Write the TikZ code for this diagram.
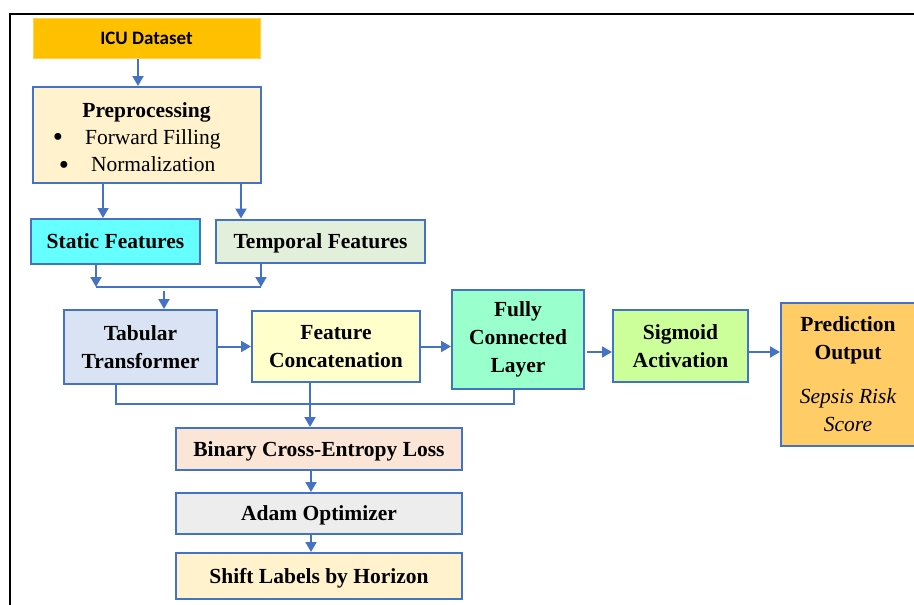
\documentclass[tikz,border=0pt]{standalone}
\usepackage{fontspec}
\setmainfont{Liberation Serif}
\newfontfamily\calibrifont{Carlito}
\usetikzlibrary{arrows.meta}
\definecolor{edgeblue}{HTML}{4472C4}
\definecolor{icufill}{HTML}{FFC000}
\definecolor{icuedge}{HTML}{FFD44D}
\definecolor{prefill}{HTML}{FFF2CC}
\definecolor{staticfill}{HTML}{66FFFF}
\definecolor{tempfill}{HTML}{E2EFDA}
\definecolor{tabfill}{HTML}{DAE3F3}
\definecolor{featfill}{HTML}{FFFFCC}
\definecolor{fcfill}{HTML}{99FFCC}
\definecolor{sigfill}{HTML}{CCFF99}
\definecolor{predfill}{HTML}{FFCC66}
\definecolor{bcefill}{HTML}{FBE5D6}
\definecolor{adamfill}{HTML}{EDEDED}
\newcommand{\bigbullet}{\raisebox{-2.5pt}{\fontsize{29}{28}\selectfont\textbullet}}
\begin{document}
\begin{tikzpicture}[x=1pt,y=-1pt,
  box/.style={draw=edgeblue, line width=2pt, inner sep=0pt, align=center,
    font=\fontsize{21.5}{28}\selectfont\bfseries, text=black},
  oneline/.style={text height=14.5pt, text depth=0pt},
  txt/.style={inner sep=0pt, font=\fontsize{21.5}{28}\selectfont, text=black},
  arr/.style={draw=edgeblue, line width=2pt, -{Triangle[length=10pt,width=11pt]}},
  link/.style={draw=edgeblue, line width=2pt}]
\useasboundingbox (0,0) rectangle (914,605);
\fill[white] (0,0) rectangle (914,605);

% outer frame
\draw[line width=2pt] (10,605) -- (10,14) -- (914,14);

% input and preprocessing
\node[box, oneline, draw=icuedge, line width=1pt, fill=icufill, minimum width=227pt, minimum height=40pt,
  font=\calibrifont\fontsize{19}{23}\selectfont\bfseries, text height=12.3pt] (icu) at (146.5,38) {ICU Dataset};
\node[box, fill=prefill, minimum width=228pt, minimum height=96pt] (pre) at (147,135) {};
\node[txt, font=\fontsize{21.5}{28}\selectfont\bfseries, anchor=base] (preh) at (146.5,117.5) {Preprocessing};
\node[txt, anchor=base west] (pre1) at (52.7,144) {\bigbullet\hspace{22pt}Forward Filling};
\node[txt, anchor=base west] (pre2) at (58.7,171.5) {\bigbullet\hspace{22pt}Normalization};

% feature split
\node[box, oneline, fill=staticfill, minimum width=169pt, minimum height=45pt] (static) at (115.5,241.5) {Static Features};
\node[box, oneline, fill=tempfill, minimum width=209pt, minimum height=43pt] (temporal) at (320.5,241) {Temporal Features};

% model pipeline
\node[box, fill=tabfill, minimum width=153pt, minimum height=74pt] (tab) at (140.5,347) {Tabular\\Transformer};
\node[box, fill=featfill, minimum width=168pt, minimum height=71pt] (feat) at (336,346.5) {Feature\\Concatenation};
\node[box, fill=fcfill, minimum width=132pt, minimum height=99pt] (fc) at (518,339.5) {Fully\\Connected\\Layer};
\node[box, fill=sigfill, minimum width=135pt, minimum height=72pt] (sig) at (680.5,346) {Sigmoid\\Activation};
\node[box, fill=predfill, minimum width=134pt, minimum height=143pt] (pred) at (848,374.5)
  {Prediction\\Output\\[16pt]{\mdseries\itshape Sepsis Risk}\\{\mdseries\itshape Score}};

% training
\node[box, oneline, fill=bcefill, minimum width=286pt, minimum height=42pt] (bce) at (319,449) {Binary Cross-Entropy Loss};
\node[box, oneline, fill=adamfill, minimum width=286pt, minimum height=41pt] (adam) at (319,513.5) {Adam Optimizer};
\node[box, oneline, fill=prefill, minimum width=286pt, minimum height=46pt] (shift) at (319,576) {Shift Labels by Horizon};

% routing points
\coordinate (ka) at (138,0);
\coordinate (k1) at (103,0);
\coordinate (k2) at (241,0);
\coordinate (j1) at (96,287);
\coordinate (j2) at (261,287);
\coordinate (j3) at (164,291);
\coordinate (j4) at (587,352);
\coordinate (k3) at (116,404);
\coordinate (k4) at (514,404);
\coordinate (k5) at (310,0);
\coordinate (k6) at (311,0);

% connectors
\draw[arr] (icu.south -| ka) -- (pre.north -| ka);
\draw[arr] (pre.south -| k1) -- (static.north -| k1);
\draw[arr] (pre.south -| k2) -- (temporal.north -| k2);
\draw[arr] (static.south -| j1) -- (j1);
\draw[arr] (temporal.south -| j2) -- (j2);
\draw[link] (j1) -- (j2);
\draw[arr] (j3) -- (tab.north -| j3);
\draw[arr] (tab.east |- feat.west) -- (feat.west);
\draw[arr] (feat.east) -- (fc.west |- feat.east);
\draw[arr] (j4) -- (sig.west |- j4);
\draw[arr] (sig.east |- j4) -- (pred.west |- j4);
\draw[link] (tab.south -| k3) -- (k3) -- (k4) -- (fc.south -| k4);
\draw[arr] (feat.south -| k5) -- (bce.north -| k5);
\draw[arr] (bce.south -| k6) -- (adam.north -| k6);
\draw[arr] (adam.south -| k6) -- (shift.north -| k6);
\end{tikzpicture}
\end{document}
